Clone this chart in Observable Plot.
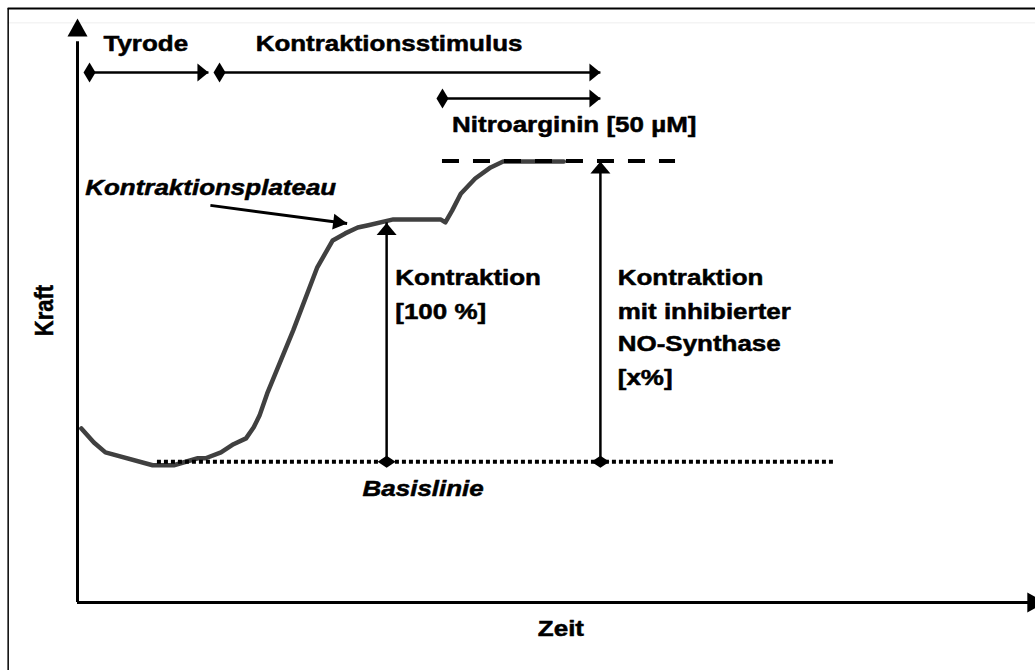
<!DOCTYPE html>
<html><head><meta charset="utf-8">
<script src="https://cdn.jsdelivr.net/npm/d3@7"></script>
<script src="https://cdn.jsdelivr.net/npm/@observablehq/plot@0.6"></script>
<style>
html,body{margin:0;padding:0;background:#fff;}
#chart{width:1035px;height:670px;overflow:hidden;}
</style>
</head><body><div id="chart"></div>
<script>
// ---- data (arbitrary units: time 0-100, force 0-100) ----
const curveTime  = [0.4, 1.7, 2.9, 7.8, 10.0, 12.5, 13.3, 14.9, 16.2, 17.5, 18.3, 18.9, 19.7, 22.4, 24.9, 26.5, 27.8, 29.1, 30.2, 32.8, 37.7, 38.2, 38.9, 39.8, 41.3, 42.9, 44.2, 50.5];
const curveForce = [29.8, 27.4, 25.7, 23.5, 23.5, 24.7, 24.7, 25.7, 27.1, 28.1, 30.0, 32.0, 35.8, 46.6, 57.4, 62.0, 63.2, 64.2, 64.6, 65.6, 65.6, 65.1, 67.1, 70.0, 72.6, 74.5, 75.5, 75.5];

const baselineForce = 24.1;
const baselineSpan = [8.3, 78.7];
const inhibitedForce = 75.6;
const inhibitedSpan = [37.9, 62.1];

const measureTime = [32.1, 54.3];
const measureTop  = [65.0, 75.5];

const phaseNames = ["Tyrode", "Kontraktionsstimulus", "Nitroarginin [50 µM]"];
const phaseStart = [1.25, 14.75, 37.9];
const phaseEnd   = [13.6, 54.3, 54.3];
const phaseRow   = [90.75, 90.75, 86.3];

const pointerFrom = [13.8, 68.0];
const pointerTo   = [28.0, 64.9];

const labelText  = ["Tyrode", "Kontraktionsstimulus", "Nitroarginin [50 µM]", "Kontraktion", "[100 %]", "Kontraktion", "mit inhibierter", "NO-Synthase", "[x%]", "Zeit"];
const labelTime  = [2.7, 18.5, 38.9, 33.0, 33.0, 56.1, 56.1, 56.1, 56.1, 47.8];
const labelForce = [95.7, 95.7, 81.85, 55.5, 49.7, 55.5, 49.7, 44.2, 38.5, -4.45];

const italicText  = ["Kontraktionsplateau", "Basislinie"];
const italicTime  = [0.8, 29.6];
const italicForce = [70.9, 19.5];

const yLabel = "Kraft";
const yLabelPos = [-3.4, 50];

const frameLeft = -7.2, frameTop = 101.7;

// ---- geometry helpers ----
const xDomain = [0, 100], xRange = [77, 1040];
const yDomain = [0, 100], yRange = [602, 18];
const xs = d3.scaleLinear(xDomain, xRange), ys = d3.scaleLinear(yDomain, yRange);

function shape(pts) {
  return {draw(ctx) { ctx.moveTo(pts[0][0], pts[0][1]); for (let i = 1; i < pts.length; i++) ctx.lineTo(pts[i][0], pts[i][1]); ctx.closePath(); }};
}
const headSmall   = shape([[0,0],[-9,11],[9,11]]);
const headMeas    = shape([[0,0],[-10,12],[10,12]]);
const headAxis    = shape([[0,0],[-10,18],[10,18]]);
const headPointer = shape([[0,0],[-8,14],[8,14]]);
const diamondTall = shape([[0,-10],[6,0],[0,10],[-6,0]]);
const diamondFlat = shape([[0,-6],[9,0],[0,6],[-9,0]]);

const curve = curveTime.map((t, i) => ({t, f: curveForce[i]}));
const phases = phaseNames.map((n, i) => ({n, a: phaseStart[i], b: phaseEnd[i], r: phaseRow[i]}));
const labels = labelText.map((s, i) => ({s, t: labelTime[i], f: labelForce[i]}));
const italics = italicText.map((s, i) => ({s, t: italicTime[i], f: italicForce[i]}));
const measures = measureTime.map((t, i) => ({t, top: measureTop[i]}));
const pointerAngle = Math.atan2(ys(pointerTo[1]) - ys(pointerFrom[1]), xs(pointerTo[0]) - xs(pointerFrom[0])) * 180 / Math.PI + 90;

const font = "'Liberation Sans', Arial, sans-serif";
const textStyle = {fontFamily: font, fontWeight: "bold", fontSize: 22, fill: "#000", stroke: "#000", strokeWidth: 0.5};

const plot = Plot.plot({
  width: 1035, height: 670,
  margin: 0,
  style: {background: "#fff", overflow: "hidden"},
  x: {domain: xDomain, range: xRange, axis: null},
  y: {domain: yDomain, range: yRange, axis: null},
  marks: [
    // frame
    Plot.ruleY([frameTop], {x1: frameLeft, x2: 100, stroke: "#000", strokeWidth: 2}),
    Plot.ruleY([frameTop - 2.45], {x1: frameLeft, x2: 100, stroke: "#eee", strokeWidth: 1}),
    Plot.ruleX([frameLeft], {y1: -20, y2: frameTop, stroke: "#000", strokeWidth: 1.5}),
    // axes
    Plot.ruleX([0], {y1: 0, y2: 96, stroke: "#000", strokeWidth: 3}),
    Plot.ruleY([0], {x1: 0, x2: 99, stroke: "#000", strokeWidth: 3}),
    Plot.dot([{t: 0, f: 100, r: 0}, {t: 100.5, f: 0, r: 90}], {x: "t", y: "f", rotate: "r", symbol: headAxis, fill: "#000", stroke: "none"}),
    // curve
    Plot.line(curve, {x: "t", y: "f", stroke: "#404040", strokeWidth: 4.5, curve: "linear", strokeLinejoin: "round"}),
    // baseline + inhibited level
    Plot.ruleY([baselineForce], {x1: baselineSpan[0], x2: baselineSpan[1], stroke: "#000", strokeWidth: 4, strokeDasharray: "4,3"}),
    Plot.ruleY([inhibitedForce], {x1: inhibitedSpan[0], x2: inhibitedSpan[1], stroke: "#000", strokeWidth: 4, strokeDasharray: "17,14"}),
    // measurement arrows
    Plot.ruleX(measures, {x: "t", y1: baselineForce, y2: "top", stroke: "#000", strokeWidth: 2.5}),
    Plot.dot(measures, {x: "t", y: "top", symbol: headMeas, fill: "#000", stroke: "none"}),
    Plot.dot(measures, {x: "t", y: () => baselineForce, symbol: diamondFlat, fill: "#000", stroke: "none"}),
    // phase arrows
    Plot.link(phases, {x1: "a", x2: "b", y1: "r", y2: "r", stroke: "#000", strokeWidth: 2.5}),
    Plot.dot(phases, {x: "a", y: "r", symbol: diamondTall, fill: "#000", stroke: "none"}),
    Plot.dot(phases, {x: "b", y: "r", symbol: headSmall, rotate: 90, fill: "#000", stroke: "none"}),
    // plateau pointer
    Plot.link([{}], {x1: () => pointerFrom[0], y1: () => pointerFrom[1], x2: () => pointerTo[0], y2: () => pointerTo[1], stroke: "#000", strokeWidth: 3}),
    Plot.dot([{}], {x: () => pointerTo[0], y: () => pointerTo[1], symbol: headPointer, rotate: pointerAngle, fill: "#000", stroke: "none"}),
    // texts
    Plot.text(labels, {x: "t", y: "f", text: "s", textAnchor: "start", lineAnchor: "middle", ...textStyle}),
    Plot.text(italics, {x: "t", y: "f", text: "s", textAnchor: "start", lineAnchor: "middle", fontStyle: "italic", ...textStyle}),
    Plot.text([yLabel], {x: () => yLabelPos[0], y: () => yLabelPos[1], text: d => d, rotate: -90, textAnchor: "middle", lineAnchor: "middle", ...textStyle, fontSize: 26})
  ]
});
document.getElementById("chart").append(plot);
// the original figure's lettering is horizontally stretched
plot.querySelectorAll("text").forEach(el => {
  const L = el.getComputedTextLength();
  const k = el.textContent === yLabel ? 1 / 1.18 : 1.18;
  el.setAttribute("textLength", (L * k).toFixed(1));
  el.setAttribute("lengthAdjust", "spacingAndGlyphs");
});
</script>
</body></html>
